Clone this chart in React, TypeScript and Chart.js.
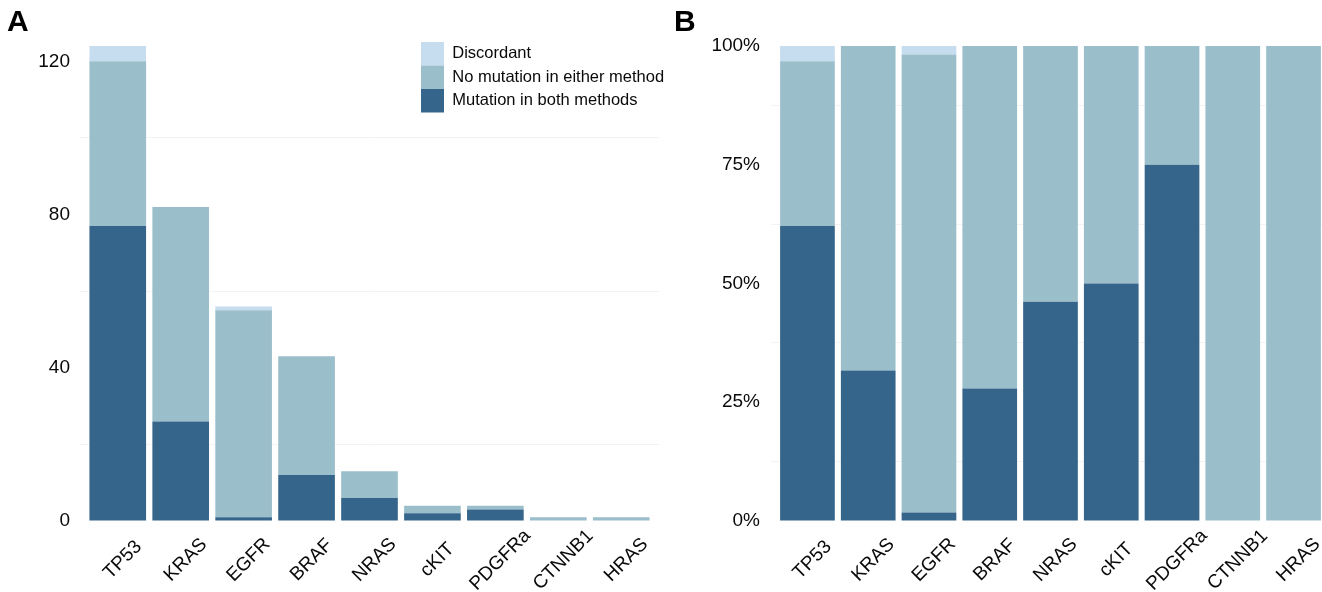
import React, { useEffect, useRef } from "react";
import { Chart, registerables } from "chart.js";

Chart.register(...registerables);

// ---------- data ----------
const genes = ["TP53", "KRAS", "EGFR", "BRAF", "NRAS", "cKIT", "PDGFRa", "CTNNB1", "HRAS"];
const mutationBoth = [77, 26, 1, 12, 6, 2, 3, 0, 0];
const noMutation = [43, 56, 54, 31, 7, 2, 1, 1, 1];
const discordant = [4, 0, 1, 0, 0, 0, 0, 0, 0];
const seriesNames = ["Mutation in both methods", "No mutation in either method", "Discordant"];
const seriesColors = ["#35658A", "#9BBECB", "#C6DDF0"];

const countTicks = [0, 20, 40, 60, 80, 100, 120];
const countLabelTicks = [0, 40, 80, 120];
const countMax = 124;
const shareTicks = [0, 0.125, 0.25, 0.375, 0.5, 0.625, 0.75, 0.875, 1];
const shareLabelTicks = [0, 0.25, 0.5, 0.75, 1];

// ---------- helpers ----------
const FONT = '"Liberation Sans", Arial, Helvetica, sans-serif';
const GRID = "#F3F3F3";
const TEXT = "#0a0a0a";

const totals = genes.map((_, i) => mutationBoth[i] + noMutation[i] + discordant[i]);
const seriesCounts = [mutationBoth, noMutation, discordant];

const centerLabels = {
  id: "centerLabels",
  beforeDraw(chart: any) {
    const scale = chart.scales.x;
    const items = scale.getLabelItems(chart.chartArea);
    const ctx = chart.ctx;
    ctx.save();
    items.forEach((item: any, i: number) => {
      ctx.font = item.font.string;
      const label = Array.isArray(item.label) ? item.label.join(" ") : String(item.label);
      const w = ctx.measureText(label).width;
      const rot = item.options.rotation;
      const cx = scale.getPixelForTick(i) + 5;
      const cy = scale.top + 39;
      item.options.translation = [cx + (w / 2) * Math.cos(rot), cy + (w / 2) * Math.sin(rot)];
      item.options.textAlign = "right";
      item.options.textBaseline = "middle";
      item.textOffset = 0;
    });
    ctx.restore();
  },
};

const placeLegend = {
  id: "placeLegend",
  afterLayout(chart: any) {
    const lg = chart.legend;
    if (!lg) return;
    lg.left = 421;
    lg.top = 42;
    lg.width = 260;
    lg.height = 80;
    lg.right = lg.left + lg.width;
    lg.bottom = lg.top + lg.height;
  },
};

function buildConfig(kind: "A" | "B"): any {
  const isA = kind === "A";
  const values = isA
    ? seriesCounts
    : seriesCounts.map((arr) => arr.map((v, i) => v / totals[i]));
  const tickVals = isA ? countTicks : shareTicks;
  const labelVals = isA ? countLabelTicks : shareLabelTicks;

  return {
    type: "bar",
    data: {
      datasets: values.map((vals, k) => ({
        label: seriesNames[k],
        data: vals.map((v, i) => ({ x: i, y: v })),
        backgroundColor: seriesColors[k],
        borderWidth: 0,
        categoryPercentage: 1,
        barPercentage: 0.9,
      })),
    },
    options: {
      responsive: false,
      animation: false,
      devicePixelRatio: 1,
      layout: {
        padding: isA
          ? { left: 0, top: 46, right: 6, bottom: 0 }
          : { left: 0, top: 46, right: 5, bottom: 0 },
      },
      scales: {
        x: {
          type: "linear",
          min: -0.6,
          max: 8.6,
          offset: false,
          stacked: true,
          grid: { display: false, offset: false, drawTicks: false },
          border: { display: false },
          afterBuildTicks: (s: any) => {
            s.ticks = genes.map((_, i) => ({ value: i }));
          },
          afterFit: (s: any) => {
            s.height = 71;
          },
          ticks: {
            autoSkip: false,
            minRotation: 45,
            maxRotation: 45,
            padding: 0,
            color: TEXT,
            font: { family: FONT, size: 19 },
            callback: (v: any) => genes[Math.round(v)] ?? "",
          },
        },
        y: {
          type: "linear",
          min: 0,
          max: isA ? countMax : 1,
          stacked: true,
          afterBuildTicks: (s: any) => {
            s.ticks = tickVals.map((v) => ({ value: v }));
          },
          afterFit: (s: any) => {
            s.width = isA ? 80 : 106;
          },
          grid: {
            drawTicks: false,
            lineWidth: 1,
            color: (c: any) =>
              c.tick && labelVals.includes(c.tick.value) ? "rgba(0,0,0,0)" : GRID,
          },
          border: { display: false },
          ticks: {
            padding: isA ? 10 : 11,
            color: TEXT,
            font: { family: FONT, size: 19 },
            callback: (v: any) =>
              labelVals.includes(v) ? (isA ? String(v) : `${Math.round(v * 100)}%`) : "",
          },
        },
      },
      plugins: {
        tooltip: { enabled: false },
        legend: isA
          ? {
              display: true,
              position: "chartArea",
              align: "start",
              reverse: true,
              labels: {
                boxWidth: 23,
                boxHeight: 23.5,
                padding: 0,
                color: TEXT,
                font: { family: FONT, size: 16.5 },
              },
            }
          : { display: false },
      },
    },
    plugins: isA ? [centerLabels, placeLegend] : [centerLabels],
  };
}

function Panel({ kind, left, width }: { kind: "A" | "B"; left: number; width: number }) {
  const ref = useRef<HTMLCanvasElement>(null);
  useEffect(() => {
    const chart = new Chart(ref.current as HTMLCanvasElement, buildConfig(kind));
    return () => chart.destroy();
  }, [kind]);
  return (
    <canvas
      ref={ref}
      width={width}
      height={592}
      style={{ position: "absolute", left, top: 0, width, height: 592 }}
    />
  );
}

const panelLabel: React.CSSProperties = {
  position: "absolute",
  top: 6,
  fontFamily: FONT,
  fontWeight: "bold",
  fontSize: 30,
  lineHeight: "30px",
  color: "#000",
};

export default function App() {
  return (
    <div
      style={{
        position: "absolute",
        left: 0,
        top: 0,
        width: 1322,
        height: 592,
        overflow: "hidden",
        background: "#fff",
      }}
    >
      <Panel kind="A" left={0} width={665} />
      <Panel kind="B" left={665} width={670} />
      <div style={{ ...panelLabel, left: 7 }}>A</div>
      <div style={{ ...panelLabel, left: 674 }}>B</div>
    </div>
  );
}
